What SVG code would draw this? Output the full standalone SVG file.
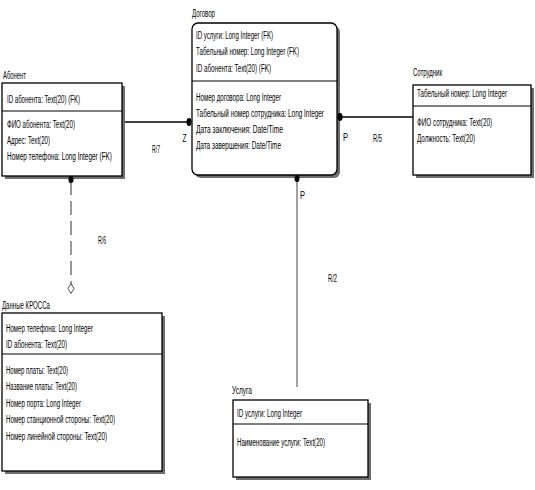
<svg xmlns="http://www.w3.org/2000/svg" width="535" height="490" viewBox="0 0 535 490">
<style>
text{font-family:"Liberation Sans",Arial,sans-serif;font-size:10px;fill:#000}
.box{fill:#fff;stroke:#000;stroke-width:1.3}
.sh{fill:#6e6e6e;stroke:none}
.div{stroke:#000;stroke-width:1.2}
.ln{stroke:#000;stroke-width:1.5;fill:none}
.thin{stroke:#444;stroke-width:1;fill:none}
.dash{stroke:#555;stroke-width:1.2;fill:none;stroke-dasharray:14 6}
.dot{fill:#000}
</style>
<rect width="535" height="490" fill="#fff"/>

<g id="abonent">
<rect class="sh" x="5" y="86" width="120" height="93"/>
<rect class="box" x="2" y="83" width="120" height="93"/>
<line class="div" x1="2" y1="111" x2="122" y2="111"/>
<text x="3" y="78.5" textLength="23" lengthAdjust="spacingAndGlyphs">Абонент</text>
<text x="7" y="102.5" textLength="73" lengthAdjust="spacingAndGlyphs">ID абонента: Text(20) (FK)</text>
<text x="7" y="127.5" textLength="68" lengthAdjust="spacingAndGlyphs">ФИО абонента: Text(20)</text>
<text x="7" y="143.5" textLength="43" lengthAdjust="spacingAndGlyphs">Адрес: Text(20)</text>
<text x="7" y="159.5" textLength="105" lengthAdjust="spacingAndGlyphs">Номер телефона: Long Integer (FK)</text>
</g>

<g id="dogovor">
<rect class="sh" x="195" y="26" width="145" height="152" rx="6"/>
<rect class="box" x="192" y="23" width="145" height="152" rx="6"/>
<line class="div" x1="192" y1="81" x2="337" y2="81"/>
<text x="192" y="16.5" textLength="23" lengthAdjust="spacingAndGlyphs">Договор</text>
<text x="196" y="38.5" textLength="77" lengthAdjust="spacingAndGlyphs">ID услуги: Long Integer (FK)</text>
<text x="196" y="55" textLength="103" lengthAdjust="spacingAndGlyphs">Табельный номер: Long Integer (FK)</text>
<text x="196" y="71.5" textLength="75" lengthAdjust="spacingAndGlyphs">ID абонента: Text(20) (FK)</text>
<text x="196" y="100.5" textLength="85" lengthAdjust="spacingAndGlyphs">Номер договора: Long Integer</text>
<text x="196" y="116.5" textLength="128" lengthAdjust="spacingAndGlyphs">Табельный номер сотрудника: Long Integer</text>
<text x="196" y="132.5" textLength="87" lengthAdjust="spacingAndGlyphs">Дата заключения: Date/Time</text>
<text x="196" y="148.5" textLength="85" lengthAdjust="spacingAndGlyphs">Дата завершения: Date/Time</text>
</g>

<g id="sotrudnik">
<rect class="sh" x="416" y="88" width="118" height="90"/>
<rect class="box" x="413" y="85" width="118" height="90"/>
<line class="div" x1="413" y1="106" x2="531" y2="106"/>
<text x="413" y="75.5" textLength="29" lengthAdjust="spacingAndGlyphs">Сотрудник</text>
<text x="417" y="96.5" textLength="90" lengthAdjust="spacingAndGlyphs">Табельный номер: Long Integer</text>
<text x="417" y="125.5" textLength="75" lengthAdjust="spacingAndGlyphs">ФИО сотрудника: Text(20)</text>
<text x="417" y="142" textLength="58" lengthAdjust="spacingAndGlyphs">Должность: Text(20)</text>
</g>

<g id="kross">
<rect class="sh" x="5" y="316" width="160" height="158"/>
<rect class="box" x="2" y="313" width="160" height="158"/>
<line class="div" x1="2" y1="354" x2="162" y2="354"/>
<text x="2" y="308.5" textLength="48" lengthAdjust="spacingAndGlyphs">Данные КРОССа</text>
<text x="6" y="331.5" textLength="87" lengthAdjust="spacingAndGlyphs">Номер телефона: Long Integer</text>
<text x="6" y="347.5" textLength="61" lengthAdjust="spacingAndGlyphs">ID абонента: Text(20)</text>
<text x="6" y="373.5" textLength="62" lengthAdjust="spacingAndGlyphs">Номер платы: Text(20)</text>
<text x="6" y="390" textLength="71" lengthAdjust="spacingAndGlyphs">Название платы: Text(20)</text>
<text x="6" y="406.5" textLength="75" lengthAdjust="spacingAndGlyphs">Номер порта: Long Integer</text>
<text x="6" y="423" textLength="109" lengthAdjust="spacingAndGlyphs">Номер станционной стороны: Text(20)</text>
<text x="6" y="439.5" textLength="101" lengthAdjust="spacingAndGlyphs">Номер линейной стороны: Text(20)</text>
</g>

<g id="usluga">
<rect class="sh" x="236" y="403" width="135" height="77"/>
<rect class="box" x="233" y="400" width="135" height="77"/>
<line class="div" x1="233" y1="424" x2="368" y2="424"/>
<text x="232" y="393.5" textLength="20" lengthAdjust="spacingAndGlyphs">Услуга</text>
<text x="237" y="416.5" textLength="65" lengthAdjust="spacingAndGlyphs">ID услуги: Long Integer</text>
<text x="237" y="445.5" textLength="88" lengthAdjust="spacingAndGlyphs">Наименование услуги: Text(20)</text>
</g>

<g id="connectors">
<line class="ln" x1="125" y1="122" x2="189" y2="122"/>
<ellipse class="dot" cx="189" cy="122" rx="2.5" ry="4"/>
<text x="182.5" y="141.5" textLength="4" lengthAdjust="spacingAndGlyphs">Z</text>
<text x="152" y="153" textLength="8" lengthAdjust="spacingAndGlyphs">R/7</text>

<line class="ln" x1="340" y1="117" x2="413" y2="117"/>
<ellipse class="dot" cx="340" cy="117" rx="2.5" ry="4"/>
<text x="343" y="140.5" textLength="5" lengthAdjust="spacingAndGlyphs">P</text>
<text x="373" y="142" textLength="9" lengthAdjust="spacingAndGlyphs">R/5</text>

<line class="thin" x1="297" y1="178" x2="297" y2="387"/>
<ellipse class="dot" cx="297" cy="178.5" rx="2.5" ry="3.5"/>
<text x="300" y="198.5" textLength="5" lengthAdjust="spacingAndGlyphs">P</text>
<text x="328" y="281.5" textLength="9" lengthAdjust="spacingAndGlyphs">R/2</text>

<line class="dash" x1="71" y1="181" x2="71" y2="284"/>
<ellipse class="dot" cx="71" cy="179.5" rx="2.5" ry="3.5"/>
<polygon points="71,283.5 74,288.5 71,293.5 68,288.5" fill="#fff" stroke="#555" stroke-width="1"/>
<text x="98" y="243.5" textLength="8" lengthAdjust="spacingAndGlyphs">R/6</text>
</g>
</svg>
